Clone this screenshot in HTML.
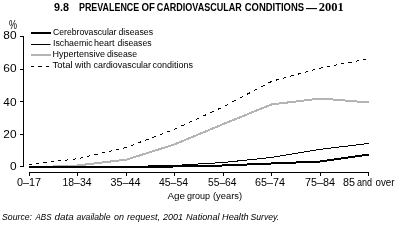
<!DOCTYPE html>
<html><head><meta charset="utf-8">
<style>
html,body{margin:0;padding:0;background:#fff;}
body{width:397px;height:227px;overflow:hidden;}
svg{display:block;will-change:transform;}
text{fill:#000;} svg{font-family:"Liberation Sans",sans-serif;}
</style></head><body>
<svg width="397" height="227" viewBox="0 0 397 227">
<!-- title -->
<text x="54" y="11" font-size="11" font-weight="bold" textLength="15" lengthAdjust="spacingAndGlyphs">9.8</text>
<g font-size="11" font-weight="bold">
<text x="79" y="11" textLength="60.2" lengthAdjust="spacingAndGlyphs">PREVALENCE</text>
<text x="141.6" y="11" textLength="13.4" lengthAdjust="spacingAndGlyphs">OF</text>
<text x="156.8" y="11" textLength="85" lengthAdjust="spacingAndGlyphs">CARDIOVASCULAR</text>
<text x="244.8" y="11" textLength="59.2" lengthAdjust="spacingAndGlyphs">CONDITIONS</text>
<text x="306" y="12" textLength="11" lengthAdjust="spacingAndGlyphs">—</text>
<text x="318.8" y="11" font-family="Liberation Serif" font-size="11.6" textLength="25" lengthAdjust="spacingAndGlyphs">2001</text>
</g>
<!-- y axis -->
<text x="9" y="29" font-size="12" textLength="8" lengthAdjust="spacingAndGlyphs">%</text>
<g font-size="11" text-anchor="end" transform="translate(16.5 0) scale(1.08 1) translate(-16.5 0)">
<text x="16.5" y="39">80</text>
<text x="16.5" y="72">60</text>
<text x="16.5" y="106">40</text>
<text x="16.5" y="138">20</text>
<text x="16.5" y="170">0</text>
</g>
<g stroke="#000" stroke-width="1" fill="none" shape-rendering="crispEdges">
<path d="M23.5 36 V167"/>
<path d="M20 36.5 H23.5 M20 69.5 H23.5 M20 101.5 H23.5 M20 134.5 H23.5 M20 166.5 H23.5"/>
<path d="M29.5 176 V172.5 H368.5 V176 M77.5 172.5 V176 M126.5 172.5 V176 M174.5 172.5 V176 M223.5 172.5 V176 M271.5 172.5 V176 M320.5 172.5 V176"/>
</g>
<!-- x labels -->
<g font-size="11">
<text x="17.0" y="186" textLength="24.0" lengthAdjust="spacingAndGlyphs">0–17</text>
<text x="62.5" y="186" textLength="29.01" lengthAdjust="spacingAndGlyphs">18–34</text>
<text x="110.5" y="186" textLength="29.99" lengthAdjust="spacingAndGlyphs">35–44</text>
<text x="159.0" y="186" textLength="29.0" lengthAdjust="spacingAndGlyphs">45–54</text>
<text x="208.0" y="186" textLength="28.5" lengthAdjust="spacingAndGlyphs">55–64</text>
<text x="255.0" y="186" textLength="30.04" lengthAdjust="spacingAndGlyphs">65–74</text>
<text x="305.0" y="186" textLength="30.04" lengthAdjust="spacingAndGlyphs">75–84</text>
<g><text x="343.0" y="186" textLength="12.02" lengthAdjust="spacingAndGlyphs">85</text><text x="357.0" y="186" textLength="15.04" lengthAdjust="spacingAndGlyphs">and</text><text x="375.5" y="186" textLength="19.07" lengthAdjust="spacingAndGlyphs">over</text></g>
</g>
<g font-size="9.6"><text x="167.5" y="199" textLength="17.58" lengthAdjust="spacingAndGlyphs">Age</text><text x="187.0" y="199" textLength="23.0" lengthAdjust="spacingAndGlyphs">group</text><text x="213.0" y="199" textLength="29.04" lengthAdjust="spacingAndGlyphs">(years)</text></g>
<g font-size="9.6" font-style="italic">
<text x="2.0" y="220" textLength="30.0" lengthAdjust="spacingAndGlyphs">Source:</text>
<text x="35.5" y="220" textLength="16.01" lengthAdjust="spacingAndGlyphs">ABS</text>
<text x="54.5" y="220" textLength="19.15" lengthAdjust="spacingAndGlyphs">data</text>
<text x="76.5" y="220" textLength="34.08" lengthAdjust="spacingAndGlyphs">available</text>
<text x="114.0" y="220" textLength="9.96" lengthAdjust="spacingAndGlyphs">on</text>
<text x="127.0" y="220" textLength="33.03" lengthAdjust="spacingAndGlyphs">request,</text>
<text x="163.0" y="220" textLength="20.0" lengthAdjust="spacingAndGlyphs">2001</text>
<text x="186.0" y="220" textLength="33.49" lengthAdjust="spacingAndGlyphs">National</text>
<text x="222.0" y="220" textLength="26.56" lengthAdjust="spacingAndGlyphs">Health</text>
<text x="250.5" y="220" textLength="28.54" lengthAdjust="spacingAndGlyphs">Survey.</text>
</g>
<!-- legend -->
<g fill="none">
<path d="M31 33 H51" stroke="#000" stroke-width="2"/>
<path d="M31 44.5 H50.5" stroke="#000" stroke-width="1"/>
<path d="M31 55 H51" stroke="#b4b4b4" stroke-width="2"/>
<path d="M31 66.5H34M38 66.5H42M46 66.5H49" stroke="#000" stroke-width="1"/>
</g>
<g font-size="9.6">
<text x="53.0" y="35" textLength="63.5" lengthAdjust="spacingAndGlyphs">Cerebrovascular</text>
<text x="118.5" y="35" textLength="34.52" lengthAdjust="spacingAndGlyphs">diseases</text>
<text x="53.0" y="46" textLength="39.56" lengthAdjust="spacingAndGlyphs">Ischaemic</text>
<text x="94.0" y="46" textLength="20.5" lengthAdjust="spacingAndGlyphs">heart</text>
<text x="117.5" y="46" textLength="34.04" lengthAdjust="spacingAndGlyphs">diseases</text>
<text x="52.5" y="57" textLength="52.54" lengthAdjust="spacingAndGlyphs">Hypertensive</text>
<text x="107.0" y="57" textLength="30.0" lengthAdjust="spacingAndGlyphs">disease</text>
<text x="52.5" y="68" textLength="20.0" lengthAdjust="spacingAndGlyphs">Total</text>
<text x="75.0" y="68" textLength="16.0" lengthAdjust="spacingAndGlyphs">with</text>
<text x="93.5" y="68" textLength="57.51" lengthAdjust="spacingAndGlyphs">cardiovascular</text>
<text x="152.5" y="68" textLength="40.5" lengthAdjust="spacingAndGlyphs">conditions</text>
</g>
<!-- data -->
<g fill="none" stroke-linejoin="round" shape-rendering="crispEdges">
<polyline stroke="#b4b4b4" stroke-width="2" points="29,167.5 77.5,165.47 126.5,159.6 174.5,144.4 223.5,124.0 271.5,104.45 320.5,98.52 369,102.45"/>
<polyline stroke="#000" stroke-width="1" points="29,166.55 77.5,166.55 126.5,166.47 174.5,165.45 223.5,162.48 271.5,157.46 320.5,149.33 369,143.4"/>
<polyline stroke="#000" stroke-width="2" points="29,167 77.5,167 126.5,167 174.5,166.49 223.5,165.48 271.5,163.49 320.5,161.49 369,154.5"/>
<path stroke="#000" stroke-width="1" d="M29.00 164.40L32.20 164.03M36.26 163.55L39.46 163.18M43.52 162.71L46.72 162.34M50.78 161.86L53.98 161.49M58.04 161.02L61.24 160.64M65.31 160.17L68.51 159.80M72.57 159.32L75.77 158.95M79.83 158.21L83.03 157.47M87.09 156.53L90.29 155.78M94.35 154.84L97.55 154.10M101.61 153.16L104.81 152.42M108.87 151.47L112.07 150.73M116.13 149.79L119.33 149.05M123.39 148.10L126.59 147.28M130.65 145.75L133.85 144.54M137.92 143.02L141.12 141.81M145.18 140.28L148.38 139.08M152.44 137.55L155.64 136.35M159.70 134.82L162.90 133.62M166.96 132.09L170.16 130.88M174.22 129.36L177.42 127.91M181.48 126.05L184.68 124.58M188.74 122.72L191.94 121.25M196.00 119.39L199.20 117.92M203.26 116.05L206.46 114.59M210.53 112.72L213.72 111.26M217.79 109.39L220.99 107.92M225.05 105.92L228.25 104.23M232.31 102.09L235.51 100.40M239.57 98.25L242.77 96.57M246.83 94.42L250.03 92.73M254.09 90.59L257.29 88.90M261.35 86.76L264.55 85.07M268.61 82.92L271.81 81.31M275.87 80.20L279.07 79.32M283.13 78.21L286.33 77.33M290.40 76.22L293.60 75.34M297.66 74.23L300.86 73.35M304.92 72.24L308.12 71.36M312.18 70.24L315.38 69.37M319.44 68.25L322.64 67.59M326.70 66.82L329.90 66.20M333.96 65.42L337.16 64.81M341.22 64.03L344.42 63.42M348.48 62.64L351.68 62.02M355.75 61.25L358.94 60.63M363.01 59.85L366.21 59.24"/>
</g>
</svg>
</body></html>
